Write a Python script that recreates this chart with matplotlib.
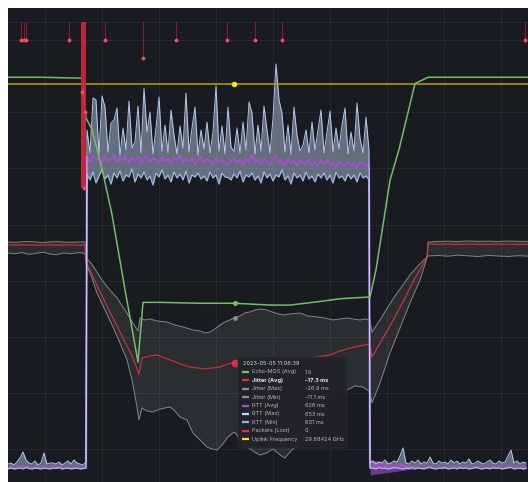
import numpy as np
import matplotlib
matplotlib.use("Agg")
import matplotlib.pyplot as plt
from matplotlib.patches import FancyBboxPatch
from matplotlib.lines import Line2D

# ------------------------------------------------------------------ data
# time axis: seconds from panel start (0 .. 520)
T_END = 520

# Echo-MOS (Avg)
mos_t = [0, 32, 74, 76, 78, 84, 95, 104, 117, 130, 135, 152, 192, 227, 262, 282, 312, 332, 362, 368, 382, 391, 407, 420, 520]
mos_v = [4.40, 4.40, 4.39, 4.20, 3.95, 3.82, 3.34, 2.88, 2.05, 1.25, 1.91, 1.91, 1.90, 1.90, 1.88, 1.88, 1.92, 1.95, 1.97, 2.27, 3.26, 3.60, 4.33, 4.40, 4.40]

# Jitter (Min)  (upper grey line)
jmin_t = [0, 7, 14, 21, 28, 35, 42, 49, 56, 63, 70, 77,
          78, 82, 87, 92, 97, 102, 109, 117, 125, 130, 132, 137, 142, 149, 159, 167, 175, 185, 192, 197, 202,
          207, 212, 217, 222, 227, 232, 237, 242, 247, 252, 259, 267, 275, 282, 292, 300, 309, 317, 325, 332,
          339, 345, 352, 357, 362, 364, 372, 380, 387, 395, 402, 410, 419,
          420, 430, 440, 450, 460, 470, 480, 490, 500, 510, 520]
jmin_v = [-0.70, -0.74, -0.66, -0.62, -0.70, -0.76, -0.68, -0.64, -0.70, -0.74, -0.68, -0.70,
          -2.89, -3.44, -4.41, -5.51, -6.47, -7.30, -8.40, -10.06, -11.85, -12.95, -11.16, -11.43, -11.29,
          -11.57, -11.71, -12.12, -12.40, -12.81, -12.95, -13.22, -13.09,
          -12.67, -12.12, -11.71, -11.43, -11.10, -10.88, -10.47, -10.33, -10.06, -9.92, -10.06, -10.47,
          -10.74, -10.61, -10.47, -10.88, -11.02, -11.16, -11.43, -11.29,
          -11.16, -11.29, -11.43, -11.29, -11.43, -13.09, -11.43, -9.64, -8.13, -6.61, -5.23, -3.99, -2.75,
          -0.69, -0.62, -0.58, -0.64, -0.55, -0.60, -0.58, -0.62, -0.56, -0.60, -0.62]

# Jitter (Avg)  (red line)
javg_t = [0, 7, 14, 21, 28, 35, 42, 49, 56, 63, 70, 77,
          78, 87, 97, 107, 117, 125, 131, 134, 142, 149, 157, 165, 172, 182, 189, 197, 204, 212, 220, 227,
          242, 262, 282, 302, 322, 332, 342, 352, 362, 364, 372, 382, 389, 397, 407, 419,
          420, 430, 440, 450, 460, 470, 480, 490, 500, 510, 520]
javg_v = [-1.10, -1.12, -1.08, -1.10, -1.14, -1.10, -1.08, -1.12, -1.10, -1.10, -1.14, -1.10,
          -3.44, -6.06, -8.95, -11.71, -14.46, -16.67, -18.87, -16.67, -16.39, -16.25, -16.67, -17.08,
          -17.49, -17.91, -18.04, -18.18, -18.04, -17.91, -17.49, -17.30,
          -17.22, -16.94, -16.80, -16.67, -16.25, -15.70, -15.29, -15.01, -14.74, -16.53, -14.60, -12.26,
          -10.47, -8.40, -5.65, -2.89,
          -0.96, -1.00, -0.98, -1.02, -0.98, -1.00, -1.02, -0.98, -1.00, -1.02, -1.00]

# Jitter (Max)  (lower grey line)
jmax_t = [0, 7, 14, 21, 28, 35, 42, 49, 56, 63, 70, 77,
          78, 84, 89, 97, 105, 112, 119, 124, 129, 131, 134, 139, 145, 152, 162, 167, 172, 179, 185, 192,
          199, 204, 209, 214, 220, 225, 227, 232, 239, 245, 252, 259, 265, 272, 277, 282, 289, 297, 307,
          322, 332, 339, 347, 355, 362, 364, 372, 382, 392, 402, 412, 419,
          420, 430, 440, 450, 460, 470, 480, 490, 500, 510, 520]
jmax_v = [-2.20, -2.30, -2.15, -2.40, -2.25, -2.10, -2.35, -2.45, -2.20, -2.30, -2.15, -2.25,
          -3.58, -5.65, -7.71, -10.06, -12.40, -14.60, -16.94, -19.70, -23.42, -25.21, -23.55, -23.97,
          -24.10, -23.69, -23.42, -23.97, -24.79, -25.21, -27.00, -27.96,
          -28.93, -29.20, -29.34, -28.65, -27.55, -27.00, -26.90, -27.96, -28.93, -29.48, -30.03, -29.75,
          -29.20, -30.03, -30.44, -29.61, -28.65, -27.96, -25.21,
          -22.45, -21.35, -21.07, -20.52, -20.66, -21.35, -22.87, -20.11, -15.98, -12.53, -9.09, -5.92, -2.89,
          -2.62, -2.55, -2.65, -2.50, -2.60, -2.70, -2.55, -2.62, -2.68, -2.58, -2.64]

# RTT (ms): before the handover (0..78 s), during (79..361 s), after (362..518 s)
rtt_max_before = [28, 30, 26, 32, 40, 52, 36, 30, 28, 34, 26, 30, 50, 28, 30, 30, 28, 32, 26, 30, 34, 28, 36, 30, 28, 26, 32]
rtt_min_before = [18, 20, 18, 19, 20, 18, 21, 19, 18, 20, 19, 18, 20, 19, 18, 20, 19, 21, 18, 19, 20, 18, 19, 20, 18, 19, 20]
rtt_avg_before = [20, 21, 20, 21, 22, 23, 22, 21, 20, 21, 20, 21, 22, 20, 21, 21, 20, 22, 20, 21, 21, 20, 22, 21, 20, 20, 21]

rtt_max_during = [696, 650, 760, 756, 648, 764, 742, 652, 710, 716, 740, 646, 700, 656, 754, 660, 672, 744, 650,
                  780, 692, 732, 648, 700, 762, 654, 706, 650, 736, 686, 648, 704, 660, 770, 652, 700, 742, 646,
                  696, 658, 712, 650, 692, 784, 654, 704, 648, 742, 662, 653, 700, 650, 712, 656, 752, 730, 648,
                  706, 654, 744, 696, 650, 720, 828, 756, 730, 652, 706, 648, 742, 686, 654, 666, 696, 650, 712,
                  656, 696, 736, 650, 692, 734, 652, 700, 658, 706, 740, 648, 692, 654, 750, 680, 650, 722, 656]
rtt_min_during = [608, 596, 612, 590, 604, 616, 598, 606, 588, 610, 600, 614, 594, 606, 602, 618, 592, 608, 600,
                  612, 596, 604, 586, 610, 602, 616, 598, 606, 592, 612, 600, 608, 596, 614, 590, 606, 602, 610,
                  598, 604, 594, 612, 600, 606, 588, 610, 602, 601, 596, 608, 600, 614, 592, 606, 602, 610, 596,
                  604, 590, 612, 600, 608, 594, 606, 602, 616, 596, 604, 588, 610, 600, 606, 594, 612, 598, 604,
                  592, 608, 600, 610, 596, 606, 590, 612, 600, 604, 594, 608, 598, 606, 592, 610, 600, 604, 596]
rtt_avg_during = [642, 632, 646, 636, 640, 630, 644, 634, 638, 646, 632, 640, 636, 644, 630, 640, 634, 642, 628,
                  638, 644, 632, 640, 636, 630, 642, 634, 638, 628, 640, 636, 644, 630, 638, 634, 640, 628, 636,
                  642, 630, 638, 634, 626, 640, 632, 636, 628, 626, 634, 640, 630, 636, 626, 638, 632, 646, 630,
                  636, 628, 640, 632, 626, 638, 644, 630, 634, 626, 638, 630, 634, 624, 636, 630, 628, 638, 626,
                  632, 624, 634, 628, 636, 626, 630, 622, 634, 628, 624, 632, 626, 630, 622, 632, 626, 628, 624]

rtt_max_after = [30, 34, 28, 32, 30, 36, 28, 30, 34, 32, 44, 60, 30, 28, 34, 30, 36, 28, 32, 30, 42, 30, 28, 34, 30, 32,
                 28, 36, 30, 34, 28, 32, 30, 38, 28, 30, 34, 30, 28, 32, 36, 30, 28, 34, 30, 32, 44, 56, 30, 34, 28, 32, 30]
rtt_min_after = [19, 20, 18, 21, 19, 20, 18, 19, 21, 20, 19, 18, 20, 19, 21, 18, 20, 19, 18, 20, 21, 19, 18, 20, 19, 21,
                 18, 19, 20, 18, 21, 19, 20, 18, 19, 21, 20, 18, 19, 20, 18, 21, 19, 20, 18, 19, 20, 21, 18, 19, 20, 18, 19]
rtt_avg_after = [21, 22, 20, 22, 21, 22, 20, 21, 22, 21, 24, 26, 21, 20, 22, 21, 22, 20, 21, 21, 23, 21, 20, 22, 21, 21,
                 20, 22, 21, 22, 20, 21, 21, 22, 20, 21, 22, 21, 20, 21, 22, 21, 20, 22, 21, 21, 24, 25, 21, 22, 20, 21, 21]
# RTT avg spread right after handover
rtt_band_t = [362, 415]
rtt_band_hi = [36, 23]
rtt_band_lo = [6, 21]

# Packets (Lost)
pkt_t = [13, 16, 18, 61, 74, 77, 97, 135, 168, 219, 247, 274, 517]
pkt_v = [1, 1, 1, 1, 3.9, 5, 1, 2, 1, 1, 1, 1, 1]
pkt_burst_t = 75.5
pkt_burst_v = 9.2

# Uplink Frequency (GHz)
freq_t = [0, 520]
freq_v = [29.68424, 29.68424]

# hover / tooltip
hover_t = 227
hover_time = "2023-05-05 11:06:39"
tip_labels = ["Echo-MOS (Avg)", "Jitter (Avg)", "Jitter (Max)", "Jitter (Min)", "RTT (Avg)",
              "RTT (Max)", "RTT (Min)", "Packets (Lost)", "Uplink Frequency"]
tip_values = ["1.9", "-17.3 ms", "-26.9 ms", "-11.1 ms", "626 ms", "653 ms", "601 ms", "0", "29.68424 GHz"]
hover_mos = 1.9
hover_jit_avg = -17.3
hover_jit_min = -11.1

# ------------------------------------------------------------------ style
BG = "#181b1f"
GRID = "#272a30"
C_GREEN = "#73bf69"
C_RED = "#e02f44"
C_GREY = "#8e8f91"
C_PURPLE = "#a352cc"
C_RTTMAX = "#c0d8ff"
C_RTTMIN = "#a8c4ee"
C_YELLOW = "#c29d12"
tip_colors = [C_GREEN, C_RED, C_GREY, C_GREY, C_PURPLE, C_RTTMAX, "#8ab8ff", C_RED, "#fade2a"]

W, H = 528, 482
fig = plt.figure(figsize=(W / 100, H / 100), dpi=100, facecolor="white")
ax = fig.add_axes([8 / W, 0, 520 / W, 474 / H])
ax.set_facecolor(BG)
ax.set_xlim(0, T_END)
ax.set_ylim(482, 8)
ax.set_xticks([37, 94, 151, 208, 265, 322, 379, 436, 493])
ax.set_yticks([22, 40, 112, 168, 225, 281, 337, 393, 449])
ax.grid(True, color=GRID, lw=0.6)
ax.tick_params(length=0, labelleft=False, labelbottom=False)
for s in ax.spines.values():
    s.set_visible(False)


def twin(lo, hi):
    a = ax.twinx()
    a.set_ylim(lo, hi)
    a.set_xlim(0, T_END)
    a.axis("off")
    return a


ax_jit = twin(-33.75, 31.54)
ax_rtt = twin(-8, 940)
ax_mos = twin(-0.077, 5.166)
ax_freq = twin(29.60, 29.7003)
ax_pkt = twin(25.56, -0.778)

# jitter band
poly_t = np.r_[jmin_t, jmax_t[::-1]]
poly_v = np.r_[jmin_v, jmax_v[::-1]]
ax_jit.fill(poly_t, poly_v, color="#8e8e8e", alpha=0.17, lw=0)
ax_jit.plot(jmin_t, jmin_v, color=C_GREY, lw=0.7, alpha=0.9)
ax_jit.plot(jmax_t, jmax_v, color=C_GREY, lw=0.7, alpha=0.9)
ax_jit.plot(javg_t, javg_v, color=C_RED, lw=0.9, alpha=0.85)


# RTT
def seg_t(vals, a, b):
    return np.linspace(a, b, len(vals))


rt = np.r_[seg_t(rtt_max_before, 0, 78), seg_t(rtt_max_during, 79, 361), seg_t(rtt_max_after, 362, 518)]
rmax = np.r_[rtt_max_before, rtt_max_during, rtt_max_after]
rmin = np.r_[rtt_min_before, rtt_min_during, rtt_min_after]
ravg = np.r_[rtt_avg_before, rtt_avg_during, rtt_avg_after]
ax_rtt.fill_between(rt, rmin, rmax, color="#c2d4f2", alpha=0.45, lw=0, zorder=1)
ax_rtt.plot(rt, ravg, color=C_PURPLE, lw=1.6, alpha=0.95, zorder=2)
ax_rtt.fill_between(rtt_band_t, rtt_band_lo, rtt_band_hi, color=C_PURPLE, alpha=0.6, lw=0, zorder=2)
ax_rtt.plot(rt, rmin, color=C_RTTMIN, lw=0.9, alpha=0.9, zorder=3)
ax_rtt.plot(rt, rmax, color=C_RTTMAX, lw=0.7, alpha=0.9, zorder=3)

# MOS
ax_mos.plot(mos_t, mos_v, color=C_GREEN, lw=1.1)
ax_mos.plot(hover_t, hover_mos, "o", ms=2.6, color=C_GREEN)

# frequency
ax_freq.plot(freq_t, freq_v, color=C_YELLOW, lw=1.1)
ax_freq.plot(hover_t - 1, freq_v[0], "o", ms=3, color="#fade2a")

# packets lost (axis inverted: bars hang from the top)
ax_pkt.vlines(pkt_t, 0, pkt_v, color="#c4162a", lw=0.7, alpha=0.75)
ax_pkt.bar(pkt_burst_t, pkt_burst_v, width=5, bottom=0, color="#d22a3d", alpha=0.9, lw=0)
ax_pkt.plot(pkt_t, pkt_v, "o", ms=1.8, color="#f2495c", lw=0)
ax_pkt.plot(pkt_burst_t, pkt_burst_v, "o", ms=1.8, color="#f2495c")

# hover markers on jitter
ax_jit.plot(hover_t, hover_jit_min, "o", ms=2.4, color=C_GREY)
ax_jit.plot(hover_t, hover_jit_avg, "o", ms=4.5, color=C_RED)

# ------------------------------------------------------------------ tooltip
def fx(px):
    return px / W


def fy(py):
    return 1 - py / H


box = FancyBboxPatch((fx(238), fy(448)), fx(347) - fx(238), fy(357) - fy(448),
                     boxstyle="round,pad=0,rounding_size=0.004", transform=fig.transFigure,
                     facecolor="#212328", edgecolor="#2c2f35", lw=0.5, alpha=0.97, zorder=5)
fig.patches.append(box)
FONT = ["Inter", "DejaVu Sans"]
FS = 4.0
fig.text(fx(243), fy(363.5), hover_time, color="#d8d9da", fontsize=FS, family=FONT,
         va="center", ha="left", zorder=6)
for i, (lab, val, col) in enumerate(zip(tip_labels, tip_values, tip_colors)):
    y = 372 + i * 8.4
    fig.lines.append(Line2D([fx(242), fx(249)], [fy(y), fy(y)], transform=fig.transFigure,
                            color=col, lw=1.6, solid_capstyle="butt", zorder=6))
    bold = (i == 1)
    tc = "#ececec" if bold else "#b5b8bd"
    fig.text(fx(252), fy(y), lab, color=tc, fontsize=FS, family=FONT, va="center", ha="left",
             fontweight="bold" if bold else "normal", zorder=6)
    fig.text(fx(305), fy(y), val, color=tc, fontsize=FS, family=FONT, va="center", ha="left",
             fontweight="bold" if bold else "normal", zorder=6)

fig.savefig("out.png", dpi=100, facecolor="white")
